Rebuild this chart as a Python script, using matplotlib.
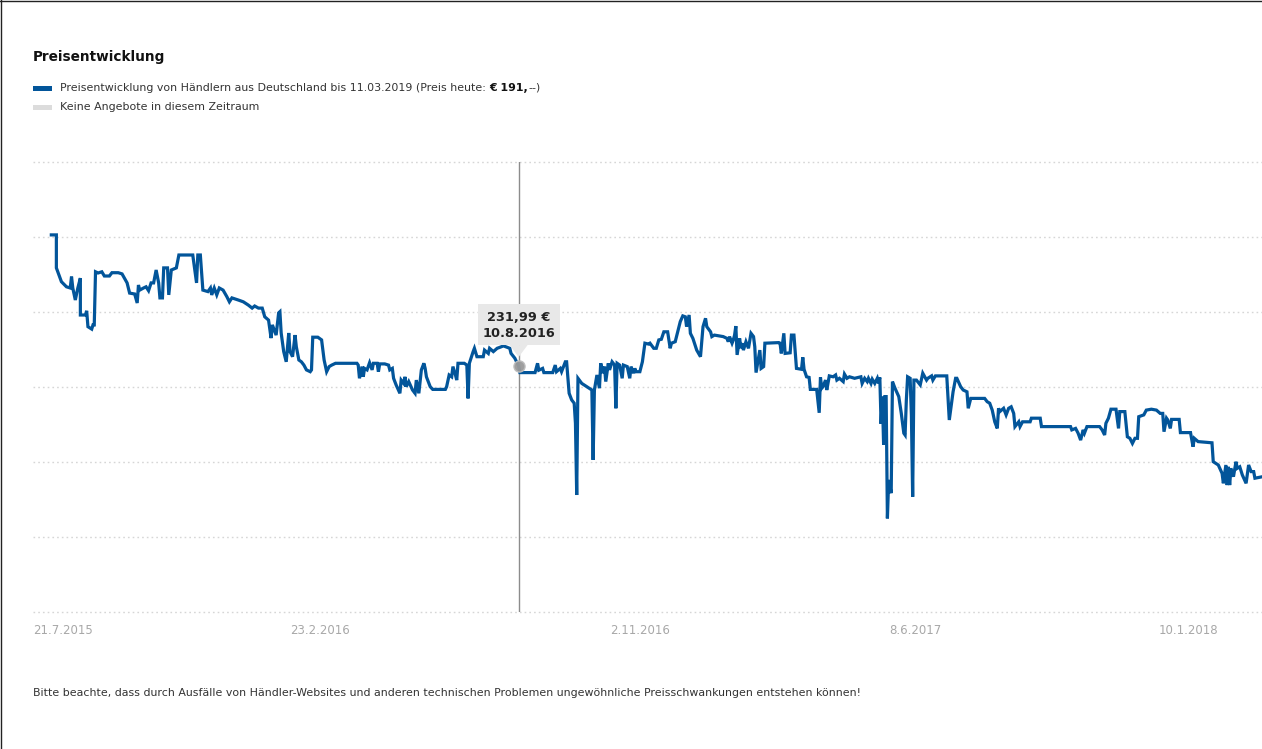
import matplotlib
matplotlib.use("Agg")
import matplotlib.pyplot as plt
import matplotlib.dates as mdates
import pandas as pd
import numpy as np
from matplotlib.patches import Rectangle, Polygon
from matplotlib.lines import Line2D

plt.rcParams['font.family'] = ['DejaVu Sans']

# ---------------- data ----------------
start_date = "2015-07-21"
day_offsets = [
    4, 8, 8, 12, 16, 19, 20, 21, 23, 25, 27, 27, 31, 32, 33, 36, 37, 38, 39, 41,
    44, 46, 50, 52, 57, 60, 64, 66, 70, 72, 73, 74, 77, 79, 81, 83, 85, 87, 89, 90,
    92, 93, 96, 97, 99, 103, 105, 116, 119, 120, 122, 124, 128, 130, 131, 133, 135, 137, 140, 143,
    145, 147, 152, 156, 160, 163, 165, 168, 171, 173, 176, 178, 179, 182, 184, 185, 186, 188, 190, 192,
    193, 195, 197, 198, 200, 202, 204, 206, 209, 210, 211, 215, 218, 220, 222, 224, 226, 229, 246, 247,
    248, 250, 251, 252, 254, 256, 258, 259, 262, 263, 264, 268, 271, 272, 274, 275, 277, 280, 281, 283,
    284, 285, 287, 290, 292, 293, 295, 297, 299, 300, 301, 304, 306, 316, 317, 319, 321, 322, 324, 325,
    326, 331, 333, 334, 335, 338, 339, 341, 346, 347, 350, 351, 354, 357, 359, 362, 367, 368, 371, 374,
    375, 387, 389, 390, 393, 394, 401, 403, 404, 407, 408, 411, 412, 414, 416, 418, 419, 420, 421, 424,
    428, 432, 433, 434, 436, 438, 439, 441, 442, 443, 445, 446, 448, 450, 451, 452, 454, 456, 457, 460,
    462, 463, 465, 466, 467, 470, 472, 474, 477, 478, 481, 483, 485, 487, 489, 492, 494, 495, 498, 500,
    502, 504, 506, 507, 509, 510, 512, 515, 518, 520, 522, 523, 526, 527, 529, 536, 539, 540, 541, 543,
    544, 545, 546, 547, 549, 550, 551, 552, 554, 556, 558, 560, 561, 562, 565, 566, 568, 569, 580, 581,
    582, 584, 585, 589, 590, 592, 594, 598, 599, 600, 602, 604, 605, 610, 612, 613, 614, 615, 617, 618,
    620, 623, 625, 626, 628, 631, 632, 634, 636, 640, 643, 645, 646, 648, 650, 651, 653, 654, 656, 658,
    659, 660, 661, 662, 663, 664, 665, 666, 667, 669, 670, 672, 675, 677, 679, 680, 681, 682, 684, 685,
    686, 687, 689, 692, 694, 697, 698, 701, 702, 704, 713, 715, 718, 720, 721, 724, 726, 729, 730, 732,
    743, 745, 747, 749, 751, 753, 754, 755, 758, 760, 762, 764, 766, 767, 770, 771, 773, 779, 780, 787,
    788, 811, 812, 815, 817, 819, 821, 822, 824, 834, 836, 838, 839, 841, 843, 847, 849, 850, 854, 856,
    858, 860, 862, 864, 865, 869, 871, 875, 879, 882, 884, 885, 887, 888, 890, 891, 897, 898, 906, 908,
    909, 912, 923, 924, 928, 931, 932, 934, 935, 936, 937, 938, 940, 942, 943, 945, 947, 950, 952, 954,
    956, 957, 963,
]
prices = [
    275.7, 275.7, 264.7, 260.1, 258.4, 258.0, 261.8, 258.0, 254.0, 258.0, 261.3, 249.0, 249.0, 250.4, 245.1, 244.3, 245.7, 245.7, 263.4, 263.0,
    263.4, 262.0, 262.0, 263.1, 263.1, 262.7, 259.7, 256.3, 256.0, 253.0, 259.0, 257.3, 258.0, 258.4, 257.1, 259.7, 259.7, 264.0, 259.7, 254.7,
    254.7, 264.7, 264.7, 255.7, 264.0, 264.7, 269.0, 269.0, 259.7, 269.0, 269.0, 257.3, 256.8, 258.0, 255.7, 258.0, 255.7, 258.0, 257.3, 255.1,
    253.4, 254.7, 254.0, 253.4, 252.3, 251.3, 252.0, 251.3, 251.3, 248.4, 247.3, 241.3, 245.7, 242.3, 249.7, 250.1, 243.0, 236.8, 233.4, 243.0,
    236.8, 235.1, 242.3, 238.4, 234.0, 233.4, 232.3, 230.7, 230.1, 230.7, 241.6, 241.6, 240.7, 234.0, 230.1, 231.8, 232.3, 232.9, 232.9, 232.3,
    227.9, 231.8, 228.4, 231.2, 230.7, 233.1, 230.7, 232.9, 232.9, 230.1, 232.7, 232.7, 232.3, 230.7, 231.2, 227.9, 225.7, 222.9, 227.3, 226.2,
    228.4, 225.1, 226.8, 224.0, 222.9, 227.3, 222.9, 230.7, 232.9, 231.2, 228.4, 225.1, 224.2, 224.2, 225.1, 229.0, 228.4, 231.8, 229.0, 227.3,
    232.9, 232.9, 232.3, 221.2, 232.9, 236.8, 237.9, 235.1, 235.1, 237.3, 236.2, 237.9, 236.8, 237.9, 238.2, 238.7, 237.9, 236.2, 234.6, 231.99,
    229.8, 229.8, 232.9, 230.6, 231.2, 229.8, 229.8, 232.3, 230.1, 231.2, 230.1, 233.4, 233.4, 222.9, 220.7, 219.6, 212.9, 189.0, 227.9, 226.2,
    225.1, 224.0, 200.7, 224.0, 229.0, 224.6, 232.9, 229.6, 231.8, 226.8, 232.9, 230.7, 233.4, 232.3, 217.9, 232.9, 232.3, 227.9, 232.3, 231.8,
    227.9, 231.8, 229.6, 231.2, 230.1, 230.1, 233.4, 239.6, 239.3, 239.6, 237.9, 237.9, 240.7, 240.9, 243.4, 243.4, 237.9, 239.6, 240.1, 243.4,
    246.8, 248.7, 248.4, 245.1, 249.0, 242.9, 241.2, 237.3, 235.1, 245.1, 247.9, 245.1, 243.4, 241.8, 242.3, 241.8, 241.2, 240.1, 241.8, 239.6,
    240.7, 242.3, 245.3, 235.7, 241.2, 237.9, 239.6, 237.3, 240.1, 237.9, 242.9, 241.8, 238.4, 229.8, 237.3, 231.2, 231.8, 239.6, 239.8, 239.6,
    236.2, 242.9, 236.2, 236.4, 242.3, 242.3, 231.2, 230.9, 234.9, 230.9, 228.4, 228.2, 224.2, 224.2, 216.4, 228.2, 224.6, 225.1, 227.3, 224.0,
    228.7, 228.4, 229.0, 227.3, 227.9, 226.8, 229.3, 227.9, 228.4, 227.9, 228.2, 228.4, 226.2, 227.9, 226.8, 227.9, 226.2, 227.6, 226.2, 227.9,
    226.2, 228.2, 212.7, 221.8, 205.7, 221.8, 221.8, 181.2, 194.0, 189.6, 226.8, 224.6, 221.8, 216.2, 209.6, 209.0, 220.7, 228.4, 227.9, 215.7,
    188.4, 227.3, 227.3, 225.7, 229.6, 227.3, 227.9, 228.7, 227.3, 228.7, 228.7, 214.0, 223.4, 227.9, 227.9, 225.1, 224.0, 223.4, 217.9, 221.2,
    221.2, 220.1, 219.6, 217.3, 213.4, 211.2, 217.9, 216.8, 217.9, 215.7, 217.9, 218.4, 216.2, 211.8, 213.4, 211.8, 213.4, 213.4, 214.6, 214.6,
    211.8, 211.8, 210.7, 211.2, 209.6, 207.3, 210.7, 209.6, 211.8, 211.8, 210.7, 209.0, 212.9, 214.6, 217.6, 217.6, 211.2, 216.8, 216.8, 208.4,
    207.9, 206.2, 207.9, 207.9, 215.1, 215.7, 217.3, 217.6, 217.3, 216.2, 216.2, 210.1, 214.6, 214.0, 211.2, 214.2, 214.2, 209.8, 209.8, 205.1,
    207.9, 206.8, 206.4, 200.1, 199.0, 196.2, 192.9, 199.0, 192.3, 198.4, 192.3, 197.9, 195.1, 200.1, 197.9, 198.4, 195.7, 192.9, 199.0, 196.8,
    196.8, 194.6, 195.1,
]
tick_dates = ["2015-07-21", "2016-02-23", "2016-11-02", "2017-06-08", "2018-01-10"]
tick_labels = ["21.7.2015", "23.2.2016", "2.11.2016", "8.6.2017", "10.1.2018"]
y_grid = [150, 175, 200, 225, 250, 275, 300]
tooltip_date = "2016-07-29"
tooltip_price = 231.99
tooltip_text = ["231,99 €", "10.8.2016"]

dates = pd.to_datetime(start_date) + pd.to_timedelta(day_offsets, unit="D")
t0 = pd.to_datetime(start_date)

# ---------------- figure ----------------
W, H = 1262, 749
fig = plt.figure(figsize=(W / 100, H / 100), dpi=100)
fig.patch.set_facecolor("white")

def fx(px):
    return px / W

def fy(py):
    return 1 - py / H

ax = fig.add_axes([fx(33), fy(612), fx(1262) - fx(33), fy(162) - fy(612)])
ax.set_facecolor("white")

LINE = "#02559a"
ax.plot(dates, prices, color=LINE, lw=2.3, solid_joinstyle="miter", zorder=3, clip_on=True)

ax.set_ylim(150, 300)
ax.set_xlim(t0 + pd.Timedelta(days=-10.5), t0 + pd.Timedelta(days=962.6))

for v in y_grid:
    ax.axhline(v, color="#d6d6d6", lw=1.0, ls=(0, (1.2, 2.2)), zorder=1, clip_on=False)

for s in ax.spines.values():
    s.set_visible(False)
ax.set_yticks([])
ax.set_xticks(pd.to_datetime(tick_dates))
# first label is kept inside the chart (left aligned at the plot edge), as in the reference
ax.set_xticklabels([""] + tick_labels[1:], color="#a8a8a8", fontsize=8.5)
ax.tick_params(axis="x", length=0, pad=9)
fig.canvas.draw()
ref_lbl = ax.get_xticklabels()[1]
lbl_y = ref_lbl.get_window_extent().y0
fig.text(fx(33), lbl_y / H, tick_labels[0], color="#a8a8a8", fontsize=8.5,
         ha="left", va="baseline")
# align baseline with other labels
fig.canvas.draw()
t_first = fig.texts[-1]
dy = ref_lbl.get_window_extent().y0 - t_first.get_window_extent().y0
t_first.set_y((lbl_y + dy) / H)

# crosshair and tooltip
td = pd.to_datetime(tooltip_date)
ax.axvline(td, color="#8c8c8c", lw=1.0, zorder=2)
ax.plot([td], [tooltip_price], marker="o", ms=8, color="#9a9a9a", mec="#bdbdbd",
        mew=1, zorder=4, alpha=0.95)

trans = ax.transData
px_pt = trans.transform((mdates.date2num(td), tooltip_price))
inv = fig.transFigure.inverted()
cx, cy = inv.transform(px_pt)
bw, bh = 82 / W, 41 / H
box_bottom = cy + 21 / H
box = Rectangle((cx - bw / 2, box_bottom), bw, bh, transform=fig.transFigure,
                facecolor="#e8e8e8", edgecolor="none", zorder=5)
fig.patches.append(box)
notch = Polygon([(cx - 9 / W, box_bottom), (cx + 9 / W, box_bottom), (cx, box_bottom - 12 / H)],
                closed=True, transform=fig.transFigure, facecolor="#e8e8e8",
                edgecolor="none", zorder=5)
fig.patches.append(notch)
fig.text(cx, box_bottom + bh - 13 / H, tooltip_text[0], ha="center", va="center",
         fontsize=9.3, fontweight="bold", color="#222222", zorder=6)
fig.text(cx, box_bottom + bh - 29 / H, tooltip_text[1], ha="center", va="center",
         fontsize=9.3, fontweight="bold", color="#222222", zorder=6)

# title and legend
fig.text(fx(33), fy(57), "Preisentwicklung", fontsize=9.8, fontweight="bold",
         color="#111111", va="center", ha="left")
fig.patches.append(Rectangle((fx(33), fy(90.5)), fx(19), 5 / H, transform=fig.transFigure,
                             facecolor=LINE, edgecolor="none"))
fig.patches.append(Rectangle((fx(33), fy(109.5)), fx(19), 5 / H, transform=fig.transFigure,
                             facecolor="#dcdcdc", edgecolor="none"))
fig.text(fx(60), fy(88), "Preisentwicklung von Händlern aus Deutschland bis 11.03.2019 (Preis heute: ",
         fontsize=7.9, color="#333333", va="center", ha="left")
t1 = fig.texts[-1]
fig.canvas.draw()
bb = t1.get_window_extent()
fig.text(bb.x1 / W, fy(88), "€ 191,", fontsize=7.9, color="#111111", fontweight="bold",
         va="center", ha="left")
t2 = fig.texts[-1]
fig.canvas.draw()
bb2 = t2.get_window_extent()
fig.text(bb2.x1 / W, fy(88), "--)", fontsize=7.9, color="#333333", va="center", ha="left")
fig.text(fx(60), fy(107), "Keine Angebote in diesem Zeitraum", fontsize=7.9, color="#333333",
         va="center", ha="left")

# footer
fig.text(fx(33), fy(693), "Bitte beachte, dass durch Ausfälle von Händler-Websites und anderen technischen "
         "Problemen ungewöhnliche Preisschwankungen entstehen können!",
         fontsize=7.9, color="#333333", va="center", ha="left")

# thin dark border on top and left
fig.add_artist(Line2D([0.0004, 0.0004], [0, 1], transform=fig.transFigure, color="#222222", lw=1.0))
fig.add_artist(Line2D([0, 1], [0.9993, 0.9993], transform=fig.transFigure, color="#222222", lw=1.0))

fig.savefig("out.png", dpi=100, facecolor="white")
